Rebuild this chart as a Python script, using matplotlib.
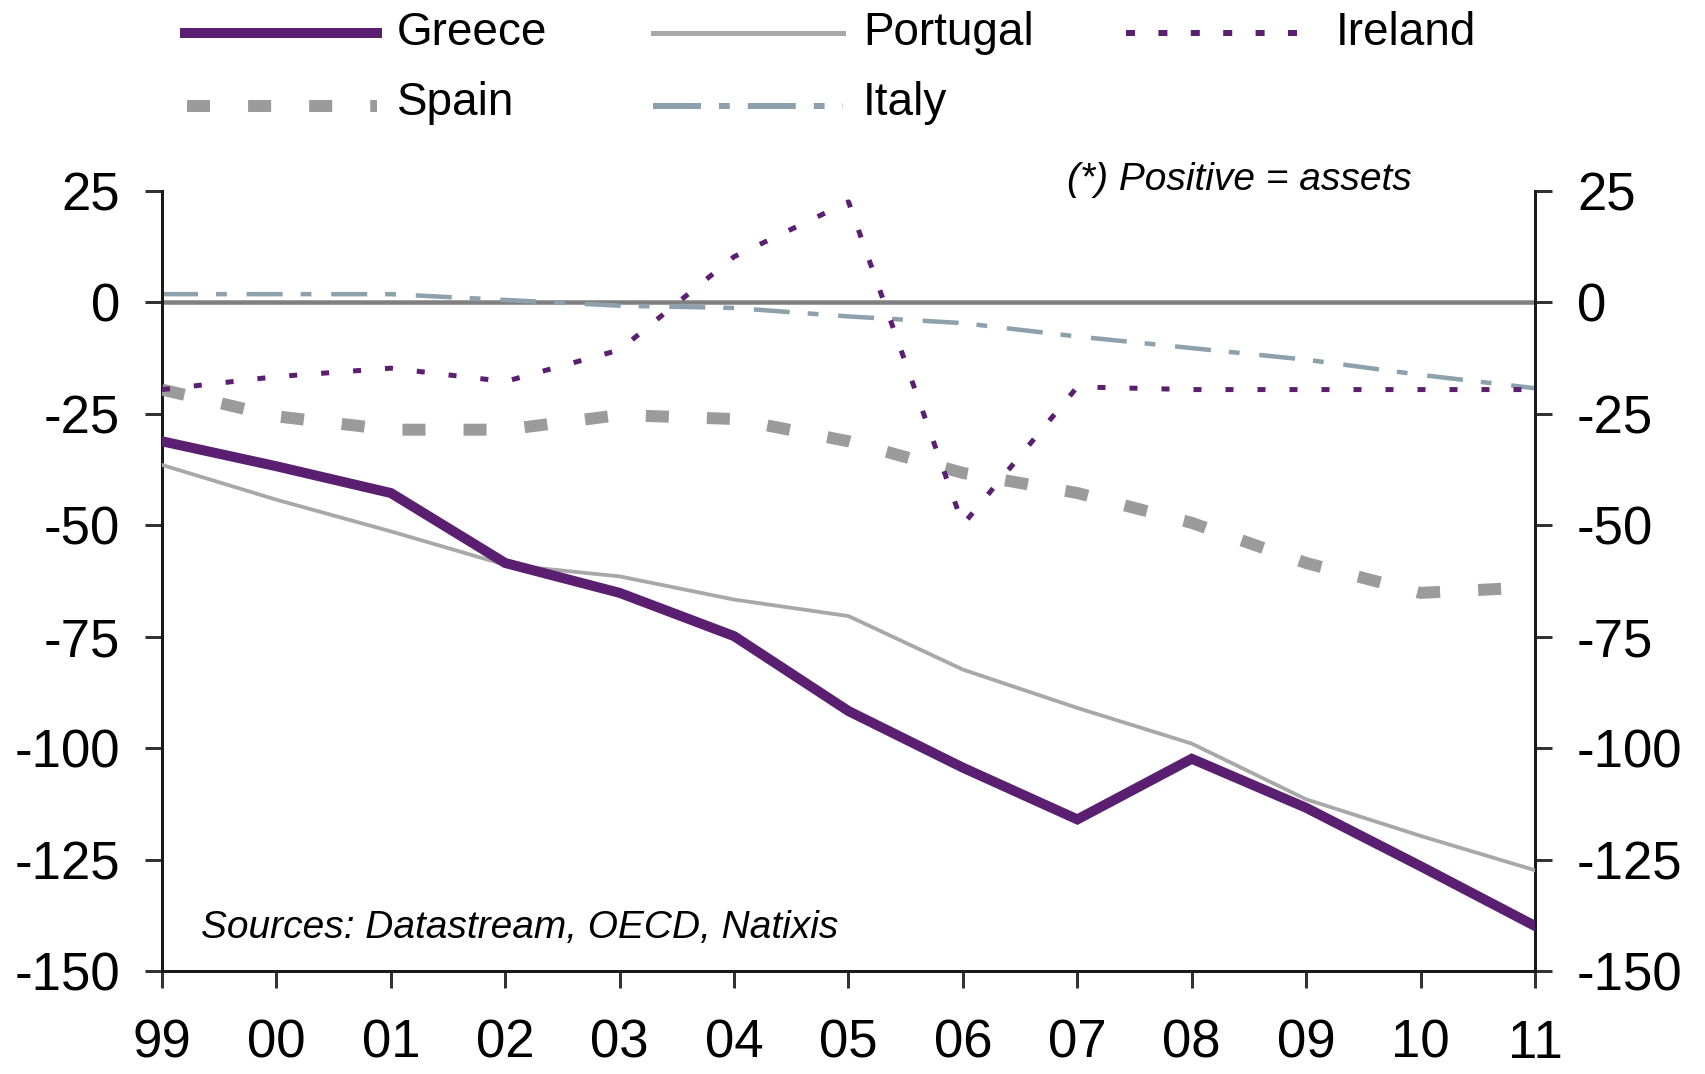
import matplotlib
matplotlib.use("Agg")
import matplotlib.pyplot as plt
from matplotlib.lines import Line2D

plt.rcParams['font.family'] = ['Liberation Sans', 'DejaVu Sans']

years = ['99', '00', '01', '02', '03', '04', '05', '06', '07', '08', '09', '10', '11']
greece = [-31.2, -36.8, -42.8, -58.5, -65.2, -74.9, -91.7, -104.4, -116.0, -102.4, -113.4, -126.5, -139.9]
portugal = [-36.5, -44.3, -51.4, -58.9, -61.5, -66.7, -70.4, -82.4, -91.0, -99.0, -111.5, -119.7, -127.4]
ireland = [-19.6, -16.7, -14.8, -17.8, -10.7, 10.2, 22.5, -49.9, -19.0, -19.6, -19.6, -19.6, -19.6]
spain = [-19.6, -25.6, -28.6, -28.6, -25.3, -26.2, -31.2, -38.3, -42.8, -49.5, -58.5, -65.2, -63.9]
italy = [1.8, 1.8, 1.8, 0.5, -0.8, -1.3, -3.2, -4.7, -7.7, -10.3, -12.9, -16.3, -19.3]
yticks = [-150, -125, -100, -75, -50, -25, 0, 25]

W, H = 1706, 1074
fig = plt.figure(figsize=(W / 100, H / 100), dpi=100)
ax = fig.add_axes([162 / W, 1 - 971 / H, (1535 - 162) / W, (971 - 190.7) / H])

PURPLE = '#5A1F70'
PGRAY = '#A8A8A8'
SGRAY = '#9B9B9B'
IBLUE = '#8CA1AC'
px = 72 / 100  # points per pixel

x = list(range(len(years)))
styles = {
    'Greece': dict(color=PURPLE, lw=10 * px, ls='-', solid_joinstyle='miter'),
    'Portugal': dict(color=PGRAY, lw=3.8 * px, ls='-'),
    'Ireland': dict(color=PURPLE, lw=5 * px, ls=(0, (1.6, 4.8))),
    'Spain': dict(color=SGRAY, lw=12 * px, ls=(0, (1.92, 3.17))),
    'Italy': dict(color=IBLUE, lw=4.5 * px, ls=(0, (8, 4, 2.4, 4.4))),
}

ax.axhline(0, color='#808080', lw=4.5 * px, zorder=1)
ax.plot(x, italy, zorder=2, **styles['Italy'])
ax.plot(x, spain, zorder=3, **styles['Spain'])
ax.plot(x, ireland, zorder=4, **styles['Ireland'])
ax.plot(x, portugal, zorder=5, **styles['Portugal'])
ax.plot(x, greece, zorder=6, **styles['Greece'])

ax.set_xlim(0, 12)
ax.set_ylim(-150, 25)
ax.set_xticks(x)
ax.set_xticklabels(years)
ax.set_yticks(yticks)
ax.set_yticklabels([str(v) for v in yticks])

for s in ['left', 'right', 'bottom']:
    ax.spines[s].set_color('#1a1a1a')
    ax.spines[s].set_linewidth(3 * px)
ax.spines['top'].set_visible(False)

ax.tick_params(axis='y', which='both', direction='out', length=17 * px, width=3 * px,
               color='#333333', labelsize=38, pad=18, left=True, right=True,
               labelleft=True, labelright=True)
ax.tick_params(axis='x', direction='out', length=17 * px, width=3 * px,
               color='#333333', labelsize=38, pad=22)

fig.text(201 / W, 1 - 938 / H, 'Sources: Datastream, OECD, Natixis', fontsize=28,
         style='italic', ha='left', va='baseline')
fig.text(1067 / W, 1 - 190 / H, '(*) Positive = assets', fontsize=28,
         style='italic', ha='left', va='baseline')

# legend, drawn manually
legend_items = [
    ('Greece', 185, 377, 397, 33, 45, dict(color=PURPLE, lw=10 * px, ls='-')),
    ('Portugal', 653, 843, 863, 33, 45, dict(color=PGRAY, lw=5 * px, ls='-')),
    ('Ireland', 1126, 1317, 1336, 33, 45, dict(color=PURPLE, lw=6 * px, ls=(0, (1.5, 3.9)))),
    ('Spain', 187, 377, 397, 106, 115, dict(color=SGRAY, lw=12 * px, ls=(0, (1.92, 3.17)))),
    ('Italy', 653, 843, 863, 106, 115, dict(color=IBLUE, lw=6 * px, ls=(0, (8, 3, 1.8, 3)))),
]
for name, x0, x1, tx, ly, by, st in legend_items:
    fig.add_artist(Line2D([x0 / W, x1 / W], [1 - ly / H, 1 - ly / H],
                          transform=fig.transFigure, **st))
    fig.text(tx / W, 1 - by / H, name, fontsize=33, ha='left', va='baseline')

fig.savefig('out.png', dpi=100)
